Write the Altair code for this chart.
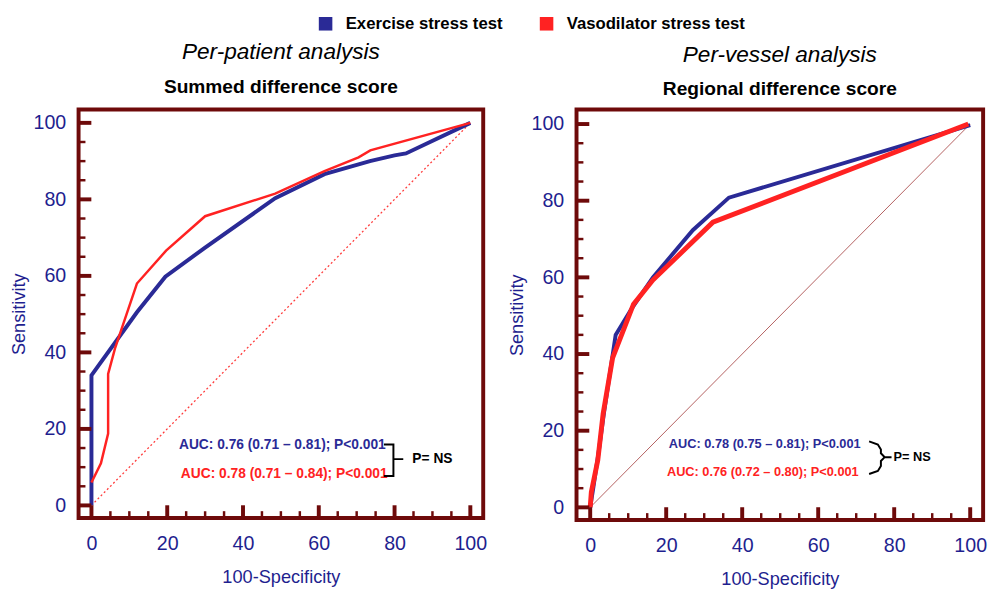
import altair as alt
import pandas as pd

# ---------------- data ----------------
series_names = ["Exercise stress test", "Vasodilator stress test"]

# Per-patient (left)
left_ex_x = [0, 0, 12, 19.5, 30, 48.5, 61.5, 73.5, 80, 83, 100]
left_ex_y = [0, 34, 50.5, 59.8, 67.4, 80.3, 86.6, 90, 91.5, 92, 100]
left_va_x = [0, 2.5, 4.4, 4.4, 6.2, 12, 19.7, 30, 48.5, 61.5, 70.5, 73.6, 100]
left_va_y = [6, 11, 18.8, 34.4, 41, 58, 66.6, 75.6, 81.5, 87.4, 91, 92.8, 100]

# Per-vessel (right)
right_ex_x = [0, 0.8, 2.3, 3.6, 6.7, 11, 16.5, 27, 36.5, 100]
right_ex_y = [0, 5, 15, 24.5, 45, 52, 60, 72.3, 80.8, 99.7]
right_va_x = [0, 0.3, 2, 3.4, 5.9, 11.4, 16.5, 32.3, 99.5]
right_va_y = [0, 4, 12.3, 24.4, 39, 53, 59.3, 74.4, 100]

diag_x = [0, 100]
diag_y = [0, 100]

major_ticks = [0, 20, 40, 60, 80, 100]
minor_ticks = [5, 10, 15, 25, 30, 35, 45, 50, 55, 65, 70, 75, 85, 90, 95]

left_auc = ["AUC: 0.76 (0.71 \u2013 0.81); P<0.001", "AUC: 0.78 (0.71 \u2013 0.84); P<0.001"]
left_auc_x = [23.1, 23.6]
left_auc_y = [15.9, 8.2]
left_brk_x = [77.2, 79.7, 79.7, 82.3, 79.7, 79.7, 77.2]
left_brk_y = [15.9, 15.9, 12.1, 12.1, 12.1, 7.7, 7.7]
left_ns = (84.7, 12.1)

right_auc = ["AUC: 0.78 (0.75 \u2013 0.81); P<0.001", "AUC: 0.76 (0.72 \u2013 0.80); P<0.001"]
right_auc_x = [20.7, 20.2]
right_auc_y = [16.4, 9.2]
right_brk_x = [73.4, 75.7, 76.5, 76.5, 77.5, 79.3, 77.5, 76.5, 76.5, 75.7, 73.4]
right_brk_y = [17.2, 16.4, 15.1, 14.1, 13.1, 13.1, 13.1, 12.1, 10.8, 9.5, 8.7]
right_ns = (79.8, 13.1)

# ---------------- style ----------------
BLUE = "#2a2a96"
RED = "#ff2222"
MAROON = "#6e0a0a"
LBLUE = "#1f1f8f"
FONT = "Liberation Sans"


def line_df(xs, ys):
    return pd.DataFrame({"x": xs, "y": ys, "o": list(range(len(xs)))})


def panel(title, subtitle, w, h, xdom, ydom, ex, va, ex_w, va_w, diag_style,
          auc, auc_x, auc_y, brk_x, brk_y, ns, auc_size, with_legend):
    xs = alt.Scale(domain=xdom, nice=False, zero=False)
    ys = alt.Scale(domain=ydom, nice=False, zero=False)
    X = alt.X("x:Q", scale=xs, title="100-Specificity",
              axis=alt.Axis(values=major_ticks, grid=False, domain=False, ticks=False,
                            labelPadding=16, titlePadding=15,
                            labelFont=FONT, labelFontSize=20, labelColor=LBLUE,
                            titleFont=FONT, titleFontSize=18.5, titleFontWeight="normal",
                            titleColor=LBLUE))
    Y = alt.Y("y:Q", scale=ys, title="Sensitivity",
              axis=alt.Axis(values=major_ticks, grid=False, domain=False, ticks=False,
                            labelPadding=13, titlePadding=5,
                            labelFont=FONT, labelFontSize=20, labelColor=LBLUE,
                            titleFont=FONT, titleFontSize=18.5, titleFontWeight="normal",
                            titleColor=LBLUE))

    diag = alt.Chart(line_df(diag_x, diag_y)).mark_line(**diag_style).encode(
        x=X, y=Y, order="o:Q")
    exl = alt.Chart(line_df(*ex)).mark_line(color=BLUE, strokeWidth=ex_w).encode(
        x=X, y=Y, order="o:Q")
    val = alt.Chart(line_df(*va)).mark_line(color=RED, strokeWidth=va_w).encode(
        x=X, y=Y, order="o:Q")

    maj = pd.DataFrame({"v": major_ticks})
    mnr = pd.DataFrame({"v": minor_ticks})
    ty_maj = alt.Chart(maj).mark_tick(orient="horizontal", size=13, thickness=4,
                                      color=MAROON, opacity=1).encode(
        y=alt.Y("v:Q", scale=ys), x=alt.value(6.5))
    ty_min = alt.Chart(mnr).mark_tick(orient="horizontal", size=7, thickness=2.5,
                                      color=MAROON, opacity=1).encode(
        y=alt.Y("v:Q", scale=ys), x=alt.value(3.5))
    tx_maj = alt.Chart(maj).mark_tick(orient="vertical", size=13, thickness=4,
                                      color=MAROON, opacity=1).encode(
        x=alt.X("v:Q", scale=xs), y=alt.value(h - 6.5))
    tx_min = alt.Chart(mnr).mark_tick(orient="vertical", size=7, thickness=2.5,
                                      color=MAROON, opacity=1).encode(
        x=alt.X("v:Q", scale=xs), y=alt.value(h - 3.5))

    cols = [BLUE, RED]
    txts = []
    for i in range(2):
        tdf = pd.DataFrame({"t": [auc[i]], "x": [auc_x[i]], "y": [auc_y[i]]})
        txts.append(alt.Chart(tdf).mark_text(align="left", baseline="middle", font=FONT,
                                             fontSize=auc_size, fontWeight="bold",
                                             color=cols[i]).encode(
            x=alt.X("x:Q", scale=xs), y=alt.Y("y:Q", scale=ys), text="t:N"))
    brk = alt.Chart(line_df(brk_x, brk_y)).mark_line(color="black", strokeWidth=2).encode(
        x=alt.X("x:Q", scale=xs), y=alt.Y("y:Q", scale=ys), order="o:Q")
    nsdf = pd.DataFrame({"t": ["P= NS"], "x": [ns[0]], "y": [ns[1]]})
    nst = alt.Chart(nsdf).mark_text(align="left", baseline="middle", font=FONT,
                                    fontSize=auc_size, fontWeight="bold", color="black").encode(
        x=alt.X("x:Q", scale=xs), y=alt.Y("y:Q", scale=ys), text="t:N")

    layers = [diag, exl, val, ty_min, ty_maj, tx_min, tx_maj] + txts + [brk, nst]
    if with_legend:
        leg = alt.Chart(pd.DataFrame({"s": series_names})).mark_square(opacity=0).encode(
            x=alt.value(0), y=alt.value(0),
            color=alt.Color("s:N", scale=alt.Scale(domain=series_names, range=[BLUE, RED]),
                            legend=alt.Legend(title=None, orient="none", legendX=243,
                                              legendY=-96, direction="horizontal",
                                              symbolType="square", symbolSize=190,
                                              symbolOpacity=1, symbolStrokeWidth=0,
                                              labelFont=FONT, labelFontSize=17,
                                              labelFontWeight="bold", labelColor="black",
                                              labelLimit=400,
                                              labelOffset=12, columnPadding=36)))
        layers.append(leg)

    return alt.layer(*layers).properties(
        width=w, height=h,
        title=alt.Title(text=title, subtitle=subtitle, font=FONT, fontSize=23,
                        fontStyle="italic", fontWeight="normal", color="black",
                        subtitleFont=FONT, subtitleFontSize=19.5, subtitleFontWeight="bold",
                        subtitleColor="black", subtitlePadding=14, offset=11,
                        anchor="middle"))


left = panel("Per-patient analysis", "Summed difference score", 412, 416,
             [-3.4, 103.4], [-3.3, 103.5],
             (left_ex_x, left_ex_y), (left_va_x, left_va_y), 4, 2.5,
             dict(color="#ff3b3b", strokeWidth=1.3, strokeDash=[2, 2.5]),
             left_auc, left_auc_x, left_auc_y, left_brk_x, left_brk_y, left_ns, 14, True)

right = panel("Per-vessel analysis", "Regional difference score", 414, 418,
              [-3.6, 103.4], [-3.3, 103.8],
              (right_ex_x, right_ex_y), (right_va_x, right_va_y), 4, 5,
              dict(color="#b46060", strokeWidth=1),
              right_auc, right_auc_x, right_auc_y, right_brk_x, right_brk_y, right_ns, 13, False)

chart = alt.hconcat(left, right, spacing=16).properties(
    padding={"left": 7, "top": 10, "right": 1, "bottom": 5},
    background="white"
).configure_view(
    stroke=MAROON, strokeWidth=4
)

chart.save("out.html", embed_options={"renderer": "svg", "actions": False})
